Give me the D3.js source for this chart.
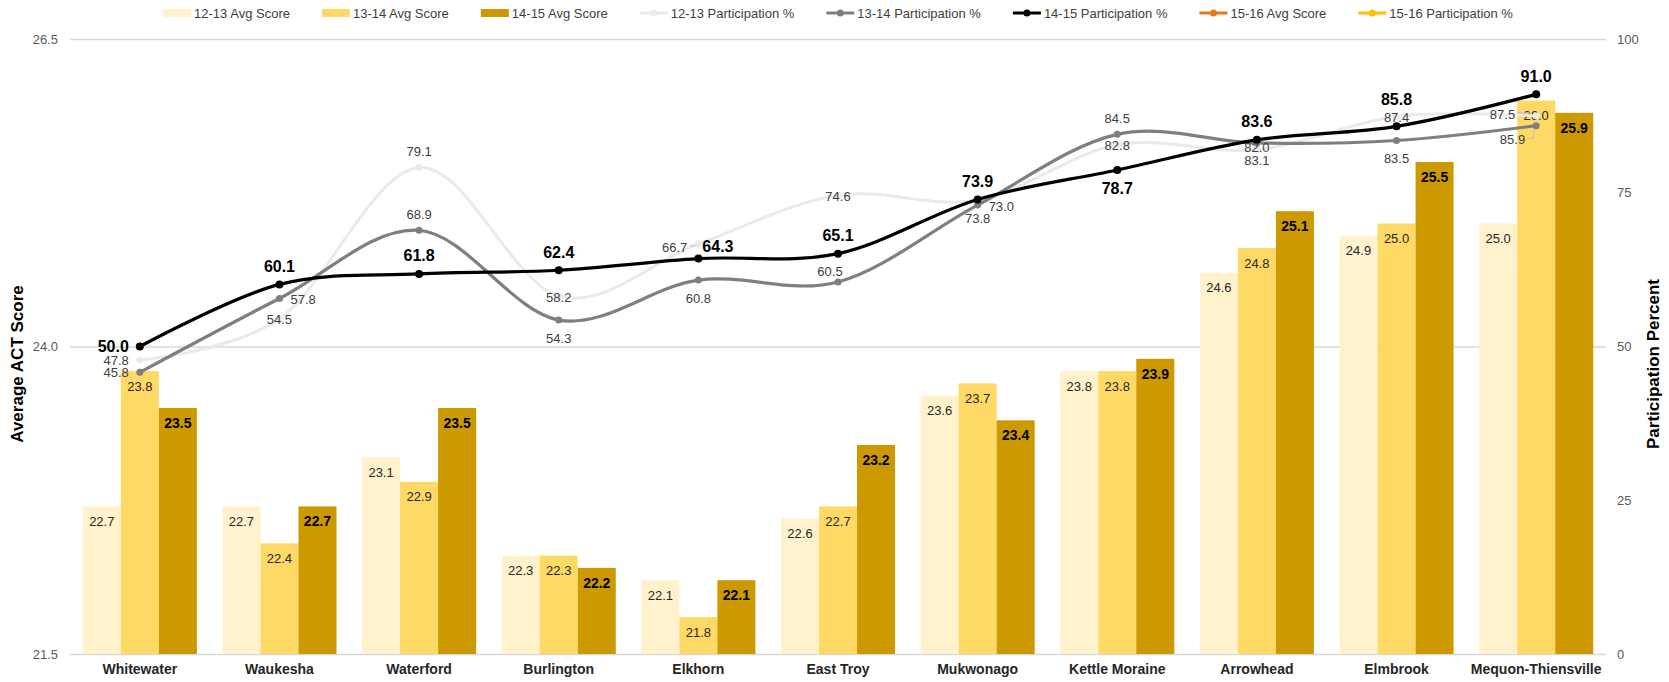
<!DOCTYPE html>
<html>
<head>
<meta charset="utf-8">
<script src="https://cdn.jsdelivr.net/npm/d3@7"></script>
<style>
  html, body { margin: 0; padding: 0; background: #fff; }
  svg { display: block; font-family: "Liberation Sans", Arial, sans-serif; }
</style>
</head>
<body>
<svg id="chart" width="1669" height="682"></svg>
<script>
// ---------- data ----------
const categories = ["Whitewater", "Waukesha", "Waterford", "Burlington", "Elkhorn", "East Troy",
  "Mukwonago", "Kettle Moraine", "Arrowhead", "Elmbrook", "Mequon-Thiensville"];

const avg1213 = [22.7, 22.7, 23.1, 22.3, 22.1, 22.6, 23.6, 23.8, 24.6, 24.9, 25.0];
const avg1314 = [23.8, 22.4, 22.9, 22.3, 21.8, 22.7, 23.7, 23.8, 24.8, 25.0, 26.0];
const avg1415 = [23.5, 22.7, 23.5, 22.2, 22.1, 23.2, 23.4, 23.9, 25.1, 25.5, 25.9];

const part1213 = [47.8, 54.5, 79.1, 58.2, 66.7, 74.6, 73.8, 82.8, 82.0, 87.4, 87.5];
const part1314 = [45.8, 57.8, 68.9, 54.3, 60.8, 60.5, 73.0, 84.5, 83.1, 83.5, 85.9];
const part1415 = [50.0, 60.1, 61.8, 62.4, 64.3, 65.1, 73.9, 78.7, 83.6, 85.8, 91.0];

const leftTicks = [21.5, 24.0, 26.5];
const rightTicks = [0, 25, 50, 75, 100];

const legendNames = ["12-13 Avg Score", "13-14 Avg Score", "14-15 Avg Score",
  "12-13 Participation %", "13-14 Participation %", "14-15 Participation %",
  "15-16 Avg Score", "15-16 Participation %"];

// label placement codes (layout only)
const pos1213 = ["L", "C", "A", "C", "LD", "C", "B", "C", "Cu", "C", "LL"];
const pos1314 = ["L", "R", "A", "B", "B", "a", "R", "A", "B", "B", "LB"];
const pos1415 = ["L", "A", "A", "A", "AR", "A", "A", "B", "A", "AA", "A"];

// ---------- styles ----------
const barColors = ["#FFF2CC", "#FFD966", "#CC9900"];
const lineColors = ["#EAEAEA", "#7F7F7F", "#000000"];

// ---------- layout ----------
const svg = d3.select("#chart");
const plotL = 70, plotR = 1606, plotT = 39, plotB = 654;

const x = d3.scaleBand().domain(categories).range([plotL, plotR])
  .paddingInner(0.183).paddingOuter(0.0915);
const xs = d3.scaleBand().domain([0, 1, 2]).range([0, x.bandwidth()]).padding(0);
const yL = d3.scaleLinear().domain([21.5, 26.5]).range([plotB, plotT]);
const yR = d3.scaleLinear().domain([0, 100]).range([plotB, plotT]);

// gridlines
const grid = svg.append("g").attr("transform", `translate(${plotL},0)`)
  .call(d3.axisLeft(yL).tickValues(leftTicks).tickSize(-(plotR - plotL)).tickFormat(""));
grid.select(".domain").remove();
grid.selectAll("line").attr("stroke", "#D9D9D9").attr("stroke-width", 1.5);

// left axis
const ax = svg.append("g").attr("transform", `translate(${plotL},0)`)
  .call(d3.axisLeft(yL).tickValues(leftTicks).tickSize(0).tickPadding(12).tickFormat(d3.format(".1f")));
ax.select(".domain").remove();
ax.selectAll("text").attr("font-size", 13).attr("fill", "#595959").attr("font-family", "Liberation Sans, Arial");

// right axis
const axr = svg.append("g").attr("transform", `translate(${plotR},0)`)
  .call(d3.axisRight(yR).tickValues(rightTicks).tickSize(0).tickPadding(11));
axr.select(".domain").remove();
axr.selectAll("text").attr("font-size", 13).attr("fill", "#595959").attr("font-family", "Liberation Sans, Arial");

// category axis
const axb = svg.append("g").attr("transform", `translate(0,${plotB})`)
  .call(d3.axisBottom(x).tickSize(0).tickPadding(10));
axb.select(".domain").remove();
axb.selectAll("text").attr("font-size", 14).attr("font-weight", "bold").attr("fill", "#262626")
  .attr("font-family", "Liberation Sans, Arial");

// axis titles
svg.append("text").attr("transform", "translate(23,364) rotate(-90)")
  .attr("text-anchor", "middle").attr("font-size", 17).attr("font-weight", "bold").attr("fill", "#000")
  .text("Average ACT Score");
svg.append("text").attr("transform", "translate(1659,364) rotate(-90)")
  .attr("text-anchor", "middle").attr("font-size", 17).attr("font-weight", "bold").attr("fill", "#000")
  .text("Participation Percent");

// bars
const barSeries = [avg1213, avg1314, avg1415];
barSeries.forEach((vals, si) => {
  const g = svg.append("g");
  g.selectAll("rect").data(vals).join("rect")
    .attr("x", (d, i) => x(categories[i]) + xs(si))
    .attr("width", xs.bandwidth())
    .attr("y", d => yL(d))
    .attr("height", d => yL(21.5) - yL(d))
    .attr("fill", barColors[si]);
  g.selectAll("text").data(vals).join("text")
    .attr("x", (d, i) => x(categories[i]) + xs(si) + xs.bandwidth() / 2)
    .attr("y", d => yL(d) + 15)
    .attr("dominant-baseline", "central")
    .attr("text-anchor", "middle")
    .attr("font-size", si === 2 ? 14 : 13)
    .attr("font-weight", si === 2 ? "bold" : "normal")
    .attr("fill", si === 2 ? "#000" : "#262626")
    .text(d => d.toFixed(1));
});

// lines
const lineSeries = [part1213, part1314, part1415];
const cx = i => x(categories[i]) + x.bandwidth() / 2;
const line = d3.line().x((d, i) => cx(i)).y(d => yR(d)).curve(d3.curveCatmullRom.alpha(0));
lineSeries.forEach((vals, si) => {
  const g = svg.append("g");
  g.append("path").attr("d", line(vals)).attr("fill", "none")
    .attr("stroke", lineColors[si]).attr("stroke-width", si === 0 ? 3 : 3.2)
    .attr("stroke-linecap", "round");
  g.selectAll("circle").data(vals).join("circle")
    .attr("cx", (d, i) => cx(i)).attr("cy", d => yR(d))
    .attr("r", si === 2 ? 4 : 3.5).attr("fill", lineColors[si]);
});

// line labels
const place = {
  A: { dx: 0, dy: -16, a: "middle" },
  AA: { dx: 0, dy: -27, a: "middle" },
  a: { dx: -8, dy: -10, a: "middle" },
  B: { dx: 0, dy: 18, a: "middle" },
  L: { dx: -11, dy: 0, a: "end" },
  R: { dx: 11, dy: 1, a: "start" },
  C: { dx: 0, dy: 1, a: "middle" },
  Cu: { dx: 0, dy: -2, a: "middle" },
  AR: { dx: 4, dy: -12, a: "start" },
  LD: { dx: -11, dy: 4, a: "end" },
  LL: { dx: -21, dy: -1, a: "end" },
  LB: { dx: -11, dy: 14, a: "end" }
};
const posSeries = [pos1213, pos1314, pos1415];
lineSeries.forEach((vals, si) => {
  const g = svg.append("g");
  vals.forEach((v, i) => {
    const code = posSeries[si][i];
    const p = place[code];
    const px = cx(i), py = yR(v);
    const bold = si === 2;
    const dy = (bold && code === "A") ? -18 : (bold && code === "B" ? 19 : p.dy);
    g.append("text")
      .attr("x", px + p.dx).attr("y", py + dy)
      .attr("dominant-baseline", "central")
      .attr("text-anchor", p.a)
      .attr("font-size", bold ? 16 : 13)
      .attr("font-weight", bold ? "bold" : "normal")
      .attr("fill", bold ? "#000" : "#404040")
      .text(v.toFixed(1));
    if (code === "LD") {
      g.append("line").attr("x1", px - 9).attr("x2", px - 3).attr("y1", py + 2).attr("y2", py + 2)
        .attr("stroke", "#BFBFBF").attr("stroke-width", 1);
    } else if (code === "LL") {
      g.append("line").attr("x1", px - 19).attr("x2", px - 6).attr("y1", py - 3).attr("y2", py - 3)
        .attr("stroke", "#BFBFBF").attr("stroke-width", 1);
    } else if (code === "LB") {
      g.append("polyline").attr("points", `${px - 9},${py + 13} ${px - 3},${py + 13} ${px - 2},${py + 3}`)
        .attr("fill", "none").attr("stroke", "#BFBFBF").attr("stroke-width", 1);
    }
  });
});

// legend
const legendTypes = ["bar", "bar", "bar", "line", "line", "line", "line", "line"];
const legendColors = ["#FFF2CC", "#FFD966", "#CC9900", "#EAEAEA", "#7F7F7F", "#000000", "#E07B1A", "#FFC000"];
const lg = svg.append("g");
const swW = 28, gapT = 3, gapItem = 32, ly = 13;
let lx = 0;
legendNames.forEach((name, i) => {
  const it = lg.append("g").attr("transform", `translate(${lx},0)`);
  if (legendTypes[i] === "bar") {
    it.append("rect").attr("x", 0).attr("y", ly - 4).attr("width", swW).attr("height", 8).attr("fill", legendColors[i]);
  } else {
    it.append("line").attr("x1", 0).attr("x2", swW).attr("y1", ly).attr("y2", ly)
      .attr("stroke", legendColors[i]).attr("stroke-width", 3);
    it.append("circle").attr("cx", swW / 2).attr("cy", ly).attr("r", 3.5).attr("fill", legendColors[i]);
  }
  const t = it.append("text").attr("x", swW + gapT).attr("y", ly).attr("dominant-baseline", "central")
    .attr("font-size", 13).attr("fill", "#404040").text(name);
  const w = t.node().getComputedTextLength();
  lx += swW + gapT + w + gapItem;
});
const totalW = lx - gapItem;
lg.attr("transform", `translate(${838 - totalW / 2},0)`);
</script>
</body>
</html>
